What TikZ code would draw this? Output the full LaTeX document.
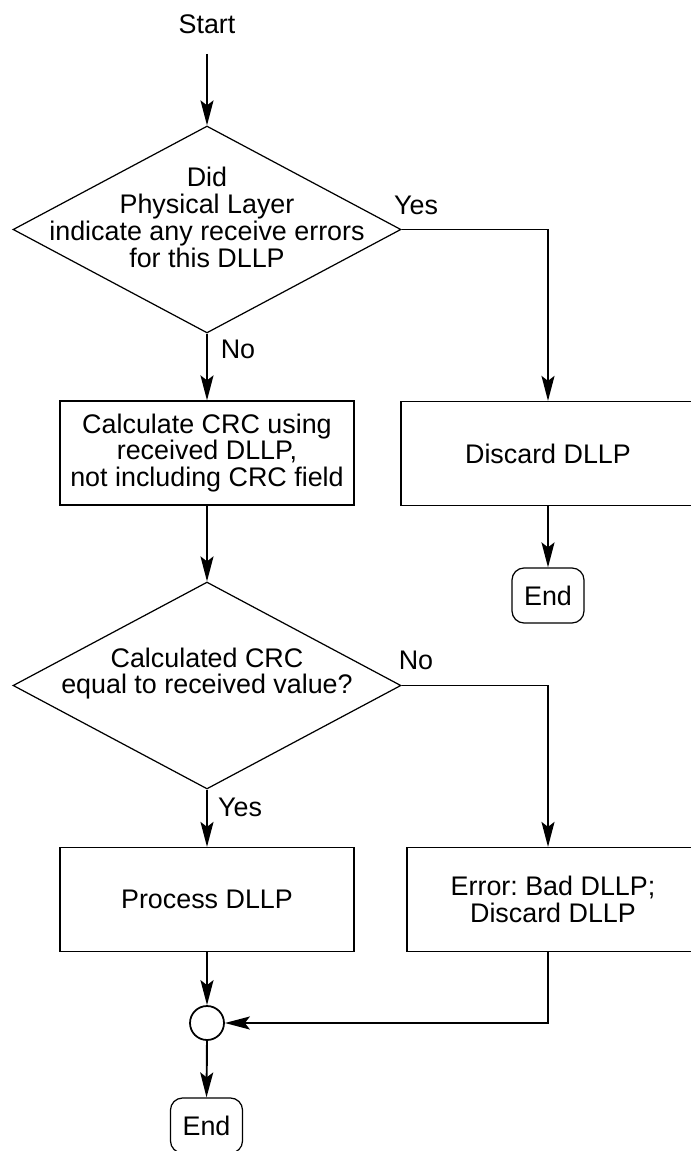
\documentclass[tikz,border=0pt]{standalone}
\usepackage{fontspec}
\setmainfont{Liberation Sans}
\usetikzlibrary{shapes.geometric, arrows.meta, positioning, calc}
\frenchspacing

\tikzset{
    procbox/.style={draw, line width=0.7pt, minimum width=5.88cm, minimum height=2.08cm, align=center, inner sep=0pt},
    decision/.style={draw, diamond, line width=0.7pt, minimum width=7.76cm, minimum height=4.14cm, inner sep=0pt},
    endbox/.style={draw, rounded corners=0.24cm, line width=0.7pt, minimum width=1.44cm, minimum height=1.1cm, inner sep=0pt},
    flow/.style={line width=1.1pt, -{Stealth[length=5mm, width=2.6mm, inset=1mm]}}
}

\begin{document}
\begin{tikzpicture}[x=0.02cm, y=-0.02cm, font=\fontsize{15.3}{15.3}\selectfont]
    \useasboundingbox (0,0) rectangle (690,1151);

    % Start & first check
    \node[inner xsep=0pt, inner ysep=0.4cm] (start) at (207,24) {Start};
    \node[decision, label={[align=center, yshift=0.24cm]center:Did\\Physical Layer\\indicate any receive errors\\for this DLLP}] (dec1) at (207,229.5) {};
    \node (yes1) at (416,205) {Yes};
    \node (no1) at (238,349) {No};

    % Left column: CRC
    \node[procbox] (calc) at (207,453) {Calculate CRC using\\received DLLP,\\not including CRC field};
    \node[decision, label={[align=center, yshift=0.24cm]center:Calculated CRC\\equal to received value?}] (dec2) at (207,685.5) {};
    \node (no2) at (416,660) {No};
    \node (yes2) at (240,807) {Yes};
    \node[procbox] (process) at (207,899.5) {Process DLLP};
    \node[circle, draw, line width=1pt, minimum size=0.68cm, inner sep=0pt] (join) at (207,1023) {};
    \node[endbox] (end2) at (206.5,1125.5) {End};

    % Right column: discard
    \node[procbox] (discard) at (548,453.5) {Discard DLLP};
    \node[endbox] (end1) at (548,595.5) {End};
    \node[procbox, minimum width=5.84cm] (error) at (553,899.5) {Error: Bad DLLP;\\Discard DLLP};

    % Connectors
    \draw[flow] (start.south) -- (dec1.north);
    \draw[flow] (dec1.south) -- (calc.north);
    \draw[flow] (dec1.east) -| (discard.north);
    \draw[flow] (discard.south) -- (end1.north);
    \draw[flow] (calc.south) -- (dec2.north);
    \draw[flow] (dec2.south) -- (process.north);
    \draw[flow] (dec2.east) -| (discard.south |- error.north);
    \draw[flow] (process.south) -- (join.north);
    \draw[flow] (discard.south |- error.south) |- (join.east);
    \draw[flow] (join.south) -- (end2.north);
\end{tikzpicture}
\end{document}
